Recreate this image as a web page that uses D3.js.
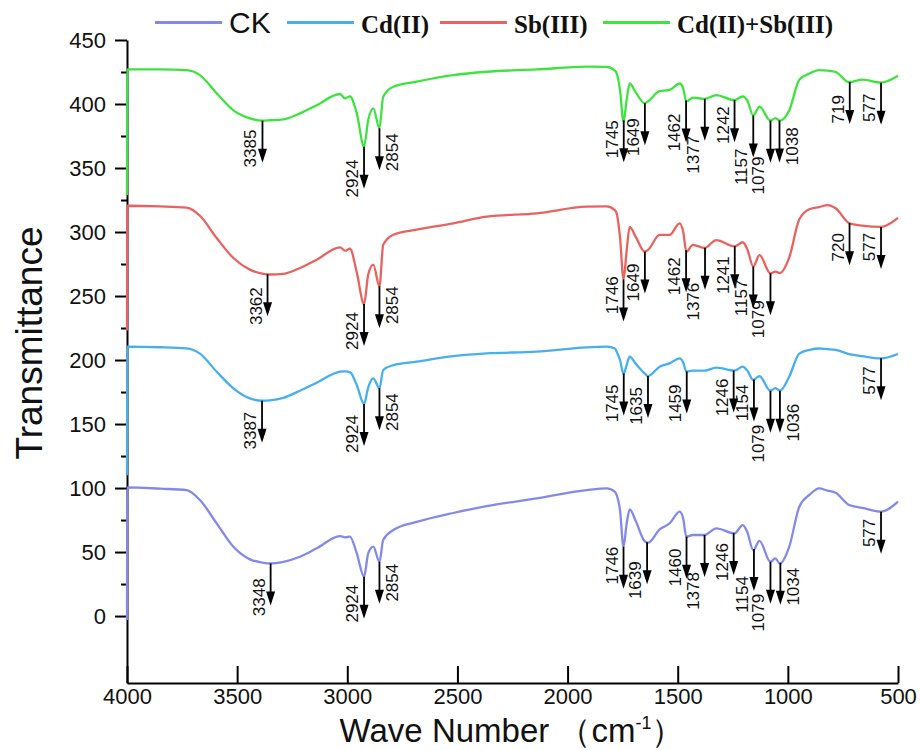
<!DOCTYPE html>
<html>
<head>
<meta charset="utf-8">
<script src="https://cdn.jsdelivr.net/npm/d3@7"></script>
<style>
  body { margin: 0; background: #fff; }
  svg { display: block; font-family: "Liberation Sans", Arial, sans-serif; }
</style>
</head>
<body>
<div id="chart"></div>
<script>
// Shared wavenumber grid (cm-1)
const wavenumbers = [4000, 3998, 3850, 3729, 3669, 3593, 3517, 3442, 3386, 3350,
  3290, 3215, 3139, 3033, 3010, 2988, 2957, 2924, 2905, 2882,
  2854, 2837, 2791, 2685, 2519, 2367, 2140, 1913, 1822, 1785,
  1777, 1762, 1746, 1732, 1718, 1690, 1650, 1635, 1582, 1537,
  1491, 1475, 1461, 1431, 1378, 1325, 1242, 1205, 1185, 1157,
  1129, 1079, 1057, 1036, 994, 948, 900, 858, 820, 783,
  722, 662, 577, 500];

// Transmittance (offset spectra)
const ck = [-3, 100.5, 99.5, 98.4, 90.6, 72.4, 54.1, 44.3, 41.8, 41.1,
  42.4, 46.3, 52.9, 62.5, 61.5, 62, 49, 30.7, 49, 54.2,
  42.4, 59.4, 67.2, 73.5, 80.5, 85.9, 91.9, 98.4, 99.7, 97,
  94.5, 82.8, 54.2, 72, 83.3, 74, 58.5, 57.3, 67.7, 72.4,
  81.5, 76, 62, 63.3, 63.3, 68.5, 64.6, 71, 66, 51.5,
  58.8, 42.4, 45, 41, 54, 85.4, 95, 99.7, 98, 96.3,
  86.7, 84.5, 81.5, 89.3];

const cd = [110, 210.4, 210, 209.1, 205, 190.9, 177.9, 170, 168.2, 168.5,
  170.5, 176, 182.3, 190.9, 191.2, 190.5, 180.5, 165.6, 178.7, 185.7,
  178, 192.2, 196, 198.7, 203, 205.2, 206.5, 209.9, 210.4, 209,
  206.5, 200, 189, 196, 202.6, 197, 189.5, 187.5, 194.8, 197.4,
  201.3, 198, 191, 191.7, 191.7, 194, 191.7, 194.8, 192, 184.4,
  187.5, 176, 178, 176, 187, 205, 208, 209, 208.5, 208,
  204.7, 203, 201.3, 204.7];

const sb = [223, 320.5, 320, 319, 312.7, 295.3, 279.7, 270.6, 267.5, 266.8,
  267.3, 271.9, 278.4, 288, 285.4, 287, 268.5, 243.7, 266.7, 274.5,
  257.6, 290, 297.9, 301.8, 306.8, 312, 314.6, 319.8, 320, 317,
  314.6, 296, 263, 285, 304, 296, 284.6, 286, 297.7, 297.7,
  306.8, 300, 284.6, 290, 287.5, 293.7, 288.8, 292, 287, 273,
  282, 267.7, 269, 268, 280, 310, 318, 319.5, 321, 318.5,
  307, 305, 304, 311];

const cdsb = [329, 427, 427, 426.5, 422.6, 408.4, 395, 388.8, 387, 387.3,
  388, 392.7, 399, 407.8, 404.4, 406, 392.7, 366.7, 387.5, 396.6,
  381, 405.7, 413.5, 417.5, 422.6, 425.2, 427, 429.2, 429, 426,
  424, 411, 386, 403, 416, 409, 400.5, 402, 410, 411,
  416, 412, 402, 405, 404, 407, 403, 406, 403, 391,
  398, 387, 389, 387, 395, 419, 424, 426.5, 426, 425,
  417, 419, 416.7, 422];

// Marked peaks for each spectrum
const peaksCK = [3348, 2924, 2854, 1746, 1639, 1460, 1378, 1246, 1154, 1079, 1034, 577];
const peaksCd = [3387, 2924, 2854, 1745, 1635, 1459, 1246, 1154, 1079, 1036, 577];
const peaksSb = [3362, 2924, 2854, 1746, 1649, 1462, 1376, 1241, 1157, 1079, 720, 577];
const peaksCdSb = [3385, 2924, 2854, 1745, 1649, 1462, 1377, 1242, 1157, 1079, 1038, 719, 577];

const seriesNames = ['CK', 'Cd(II)', 'Sb(III)', 'Cd(II)+Sb(III)'];
const seriesColors = ['#8389ea', '#46aff0', '#e8625f', '#3ee43e'];

const xTicks = [4000, 3500, 3000, 2500, 2000, 1500, 1000, 500];
const yTicks = [0, 50, 100, 150, 200, 250, 300, 350, 400, 450];
const yMinorTicks = [25, 75, 125, 175, 225, 275, 325, 375, 425];

// label placement for the arrows: side of the arrow and drop below curve (px)
const labelLayout = [
  [['L', 15], ['L', 8], ['R', 2], ['L', 0], ['L', 19], ['L', 12], ['L', 37], ['L', 10], ['L', 27], ['L', 32], ['R', 5], ['L', 7]],
  [['L', 11], ['L', 11], ['R', 5], ['L', 11], ['L', 11], ['L', 13], ['L', 8], ['L', 5], ['L', 34], ['R', 13], ['L', 8]],
  [['L', 13], ['L', 8], ['R', 0], ['L', -3], ['L', 12], ['L', 7], ['L', 35], ['L', 10], ['L', 13], ['L', 27], ['L', 10], ['L', 6]],
  [['L', 9], ['L', 13], ['R', 5], ['L', 0], ['L', 15], ['L', 13], ['L', 37], ['L', 6], ['L', 33], ['L', 36], ['R', 7], ['L', 13], ['L', 11]]
];

const series = [
  { name: seriesNames[0], color: seriesColors[0], values: ck, peaks: peaksCK },
  { name: seriesNames[1], color: seriesColors[1], values: cd, peaks: peaksCd },
  { name: seriesNames[2], color: seriesColors[2], values: sb, peaks: peaksSb },
  { name: seriesNames[3], color: seriesColors[3], values: cdsb, peaks: peaksCdSb }
];

const width = 920, height = 750;

const svg = d3.select('#chart')
  .append('svg')
  .attr('width', width)
  .attr('height', height);

const x = d3.scaleLinear().domain([4000, 500]).range([127, 898]);
const y = d3.scaleLinear().domain([-52.3, 450]).range([683, 40]);

// linear lookup of a spectrum value at a given wavenumber
function valueAt(values, wn) {
  for (let i = 0; i < wavenumbers.length - 1; i++) {
    const a = wavenumbers[i], b = wavenumbers[i + 1];
    if (wn <= a && wn >= b) {
      const t = (a - wn) / (a - b);
      return values[i] + t * (values[i + 1] - values[i]);
    }
  }
  return values[values.length - 1];
}

// Axes
const yAxis = svg.append('g')
  .attr('transform', 'translate(127,0)')
  .call(d3.axisLeft(y).tickValues(yTicks).tickSize(12).tickSizeOuter(0).tickPadding(9));
yAxis.selectAll('text').style('font-size', '22px').attr('fill', '#111');

svg.append('g')
  .attr('transform', 'translate(127,0)')
  .call(d3.axisLeft(y).tickValues(yMinorTicks).tickSize(6).tickSizeOuter(0).tickFormat(''))
  .call(g => g.select('.domain').remove());

const xAxis = svg.append('g')
  .attr('transform', 'translate(0,683)')
  .call(d3.axisBottom(x).tickValues(xTicks).tickSize(-17).tickSizeOuter(0)
    .tickPadding(5).tickFormat(d3.format('d')));
xAxis.selectAll('text').style('font-size', '22px').attr('fill', '#111');

svg.selectAll('.domain, .tick line').attr('stroke', '#000').attr('stroke-width', 2);

// Spectra
const line = d3.line()
  .x((d, i) => x(wavenumbers[i]))
  .y(d => y(d))
  .curve(d3.curveMonotoneX);

svg.selectAll('path.spectrum')
  .data(series)
  .enter()
  .append('path')
  .attr('class', 'spectrum')
  .attr('d', d => line(d.values))
  .attr('fill', 'none')
  .attr('stroke', d => d.color)
  .attr('stroke-width', 2.3);

// Peak arrows and labels
series.forEach((s, si) => {
  s.peaks.forEach((wn, pi) => {
    const px = x(wn);
    const py = y(valueAt(s.values, wn));
    const [side, drop] = labelLayout[si][pi];
    svg.append('line')
      .attr('x1', px).attr('x2', px)
      .attr('y1', py).attr('y2', py + 30)
      .attr('stroke', '#000').attr('stroke-width', 1.8);
    svg.append('path')
      .attr('d', `M${px - 4.5},${py + 28}L${px + 4.5},${py + 28}L${px},${py + 42}Z`)
      .attr('fill', '#000');
    const tx = side === 'L' ? px - 6 : px + 19;
    const ty = py + drop;
    svg.append('text')
      .attr('transform', `translate(${tx},${ty}) rotate(-90)`)
      .attr('text-anchor', 'end')
      .style('font-size', '17px')
      .attr('fill', '#111')
      .text(wn);
  });
});

// Legend
const legendX = [155, 287, 440, 603];
series.forEach((s, i) => {
  const lx = legendX[i];
  svg.append('line')
    .attr('x1', lx).attr('x2', lx + 67)
    .attr('y1', 22.5).attr('y2', 22.5)
    .attr('stroke', s.color).attr('stroke-width', 3);
  const t = svg.append('text')
    .attr('x', lx + 74)
    .attr('y', 33)
    .attr('fill', '#111')
    .text(s.name);
  if (i === 0) {
    t.style('font-size', '30px');
  } else {
    t.style('font-family', '"Liberation Serif", "Times New Roman", serif')
      .style('font-weight', 'bold')
      .style('font-size', '25px');
  }
});

// Axis titles
svg.append('text')
  .attr('transform', 'translate(42,343) rotate(-90)')
  .attr('text-anchor', 'middle')
  .style('font-size', '37px')
  .attr('fill', '#111')
  .text('Transmittance');

const xt = svg.append('text')
  .attr('x', 512)
  .attr('y', 742)
  .attr('text-anchor', 'middle')
  .style('font-size', '33px')
  .attr('fill', '#111');
xt.append('tspan').text('Wave Number （cm');
xt.append('tspan').attr('dy', -13).style('font-size', '18px').text('-1');
xt.append('tspan').attr('dy', 13).text('）');
</script>
</body>
</html>
